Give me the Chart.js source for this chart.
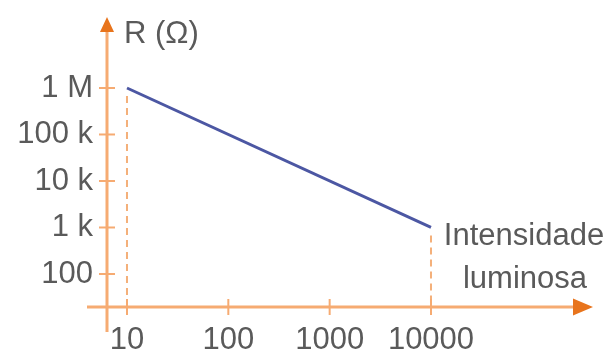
<!DOCTYPE html>
<html><head><meta charset="utf-8">
<script src="https://cdn.jsdelivr.net/npm/chart.js@4/dist/chart.umd.min.js"></script>
<style>html,body{margin:0;padding:0;background:#fff}#wrap{width:615px;height:358px}</style>
</head><body><div id="wrap"><canvas id="c" width="615" height="358"></canvas></div>
<script>
const xTicks = [10, 100, 1000, 10000];
const xTickLabels = ['10', '100', '1000', '10000'];
const yTicks = [1e6, 1e5, 1e4, 1e3, 100];
const yTickLabels = ['1 M', '100 k', '10 k', '1 k', '100'];
const lightValues = [10, 10000];
const resistanceValues = [1e6, 1000];
const yAxisTitle = 'R (Ω)';
const xAxisTitle = ['Intensidade', 'luminosa'];

const FONT = 'Liberation Sans, Arial, sans-serif';
const TXT = '#5a5a5a';
const AX = '#f6ab72';
const ARROW = '#e8741c';
const DASH = '#f4b07a';

const axesPlugin = {
  id: 'axesPlugin',
  beforeDatasetsDraw(chart) {
    const ctx = chart.ctx, xs = chart.scales.x, ys = chart.scales.y, a = chart.chartArea;
    const x0 = a.left, y0 = a.bottom;
    ctx.save();
    ctx.strokeStyle = DASH; ctx.lineWidth = 2; ctx.setLineDash([7, 5]);
    for (let i = 0; i < lightValues.length; i++) {
      const px = xs.getPixelForValue(lightValues[i]);
      const py = ys.getPixelForValue(resistanceValues[i]);
      ctx.beginPath(); ctx.moveTo(px, py + 8); ctx.lineTo(px, y0); ctx.stroke();
    }
    ctx.setLineDash([]);
    ctx.strokeStyle = AX; ctx.lineWidth = 3;
    ctx.beginPath(); ctx.moveTo(x0, y0 + 25); ctx.lineTo(x0, a.top + 12); ctx.stroke();
    ctx.beginPath(); ctx.moveTo(x0 - 20, y0); ctx.lineTo(a.right - 16, y0); ctx.stroke();
    ctx.lineWidth = 2;
    yTicks.forEach(v => { const p = ys.getPixelForValue(v); ctx.beginPath(); ctx.moveTo(x0 - 8, p); ctx.lineTo(x0 + 8, p); ctx.stroke(); });
    xTicks.forEach(v => { const p = xs.getPixelForValue(v); ctx.beginPath(); ctx.moveTo(p, y0 - 8); ctx.lineTo(p, y0 + 8); ctx.stroke(); });
    ctx.fillStyle = ARROW;
    ctx.beginPath(); ctx.moveTo(x0, a.top - 1); ctx.lineTo(x0 - 7, a.top + 14); ctx.lineTo(x0 + 7, a.top + 14); ctx.closePath(); ctx.fill();
    ctx.beginPath(); ctx.moveTo(a.right, y0); ctx.lineTo(a.right - 20, y0 - 8.5); ctx.lineTo(a.right - 20, y0 + 8.5); ctx.closePath(); ctx.fill();
    ctx.fillStyle = TXT; ctx.font = '31px ' + FONT; ctx.textBaseline = 'alphabetic';
    ctx.textAlign = 'left';
    ctx.fillText(yAxisTitle, x0 + 17, a.top + 25);
    ctx.textAlign = 'center';
    ctx.fillText(xAxisTitle[0], 524, 245);
    ctx.fillText(xAxisTitle[1], 525, 288);
    ctx.restore();
  }
};

new Chart(document.getElementById('c'), {
  type: 'scatter',
  data: {
    datasets: [{
      data: lightValues.map((v, i) => ({ x: v, y: resistanceValues[i] })),
      showLine: true,
      borderColor: '#4c57a3',
      borderWidth: 3,
      pointRadius: 0,
      fill: false
    }]
  },
  options: {
    responsive: false,
    animation: false,
    devicePixelRatio: 1,
    layout: { padding: { top: 18, right: 22, left: 0, bottom: 0 } },
    plugins: { legend: { display: false }, tooltip: { enabled: false } },
    scales: {
      x: {
        type: 'logarithmic',
        min: 6.35, max: 397000,
        afterBuildTicks: s => { s.ticks = xTicks.map(v => ({ value: v })); },
        afterFit: s => { s.height = 51; s.paddingLeft = 0; s.paddingRight = 0; },
        grid: { display: false, drawTicks: false }, border: { display: false },
        ticks: {
          autoSkip: false, maxRotation: 0, padding: 15, color: TXT,
          font: { family: FONT, size: 31 },
          callback: (v) => { const i = xTicks.indexOf(v); return i >= 0 ? xTickLabels[i] : ''; }
        }
      },
      y: {
        type: 'logarithmic',
        min: 19.5, max: 3.2e7,
        afterBuildTicks: s => { s.ticks = yTicks.map(v => ({ value: v })); },
        afterFit: s => { s.width = 107; s.paddingTop = 0; s.paddingBottom = 0; },
        grid: { display: false, drawTicks: false }, border: { display: false },
        ticks: {
          autoSkip: false, padding: 14, color: TXT,
          font: { family: FONT, size: 31 },
          callback: (v) => { const i = yTicks.indexOf(v); return i >= 0 ? yTickLabels[i] : ''; }
        }
      }
    }
  },
  plugins: [axesPlugin]
});
</script></body></html>
